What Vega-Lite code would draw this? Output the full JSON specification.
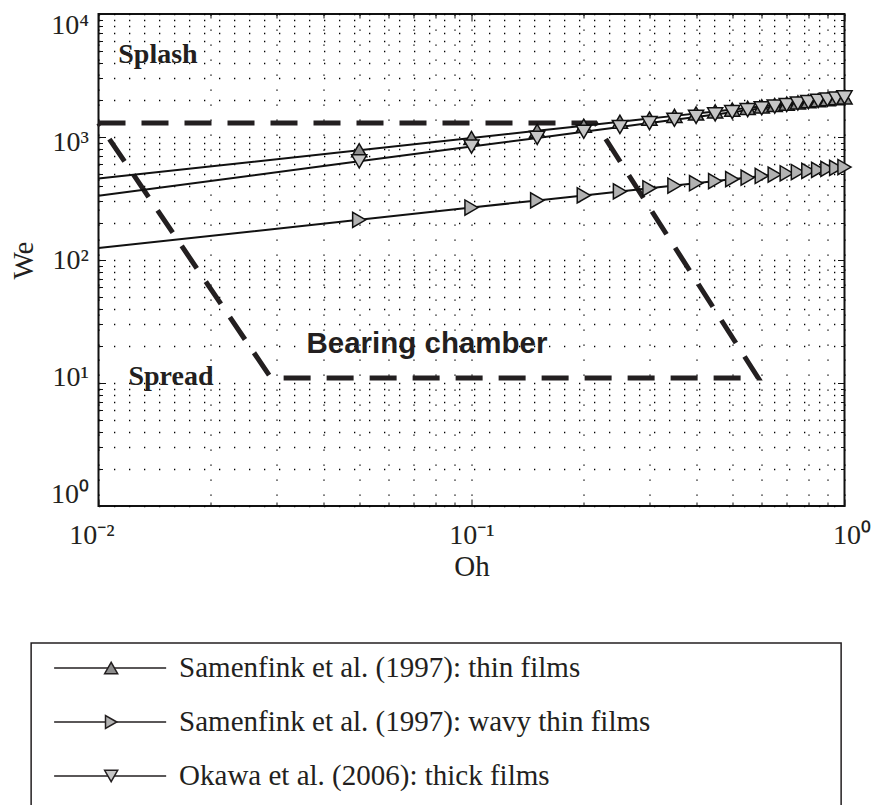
{
  "$schema": "https://vega.github.io/schema/vega-lite/v6.json",
  "padding": {"left": 8, "top": 4, "right": 0, "bottom": 0},
  "background": "white",
  "config": {"font": "Liberation Serif", "view": {"stroke": null}},
  "datasets": {
    "chamber": [
      {"Oh": 0.01, "We": 1300, "k": 1},
      {"Oh": 0.215, "We": 1300, "k": 2},
      {"Oh": 0.587, "We": 11, "k": 3},
      {"Oh": 0.029, "We": 11, "k": 4},
      {"Oh": 0.01, "We": 1300, "k": 5}
    ],
    "curves": [
      {"series": "Samenfink et al. (1997): thin films", "Oh": 0.01, "We": 459},
      {"series": "Samenfink et al. (1997): thin films", "Oh": 0.05, "We": 781},
      {"series": "Samenfink et al. (1997): thin films", "Oh": 0.1, "We": 982},
      {"series": "Samenfink et al. (1997): thin films", "Oh": 0.15, "We": 1123},
      {"series": "Samenfink et al. (1997): thin films", "Oh": 0.2, "We": 1235},
      {"series": "Samenfink et al. (1997): thin films", "Oh": 0.25, "We": 1329},
      {"series": "Samenfink et al. (1997): thin films", "Oh": 0.3, "We": 1412},
      {"series": "Samenfink et al. (1997): thin films", "Oh": 0.35, "We": 1485},
      {"series": "Samenfink et al. (1997): thin films", "Oh": 0.4, "We": 1552},
      {"series": "Samenfink et al. (1997): thin films", "Oh": 0.45, "We": 1614},
      {"series": "Samenfink et al. (1997): thin films", "Oh": 0.5, "We": 1671},
      {"series": "Samenfink et al. (1997): thin films", "Oh": 0.55, "We": 1724},
      {"series": "Samenfink et al. (1997): thin films", "Oh": 0.6, "We": 1775},
      {"series": "Samenfink et al. (1997): thin films", "Oh": 0.65, "We": 1822},
      {"series": "Samenfink et al. (1997): thin films", "Oh": 0.7, "We": 1867},
      {"series": "Samenfink et al. (1997): thin films", "Oh": 0.75, "We": 1910},
      {"series": "Samenfink et al. (1997): thin films", "Oh": 0.8, "We": 1951},
      {"series": "Samenfink et al. (1997): thin films", "Oh": 0.85, "We": 1991},
      {"series": "Samenfink et al. (1997): thin films", "Oh": 0.9, "We": 2029},
      {"series": "Samenfink et al. (1997): thin films", "Oh": 0.95, "We": 2065},
      {"series": "Samenfink et al. (1997): thin films", "Oh": 1, "We": 2100},
      {"series": "Samenfink et al. (1997): wavy thin films", "Oh": 0.01, "We": 125},
      {"series": "Samenfink et al. (1997): wavy thin films", "Oh": 0.05, "We": 212},
      {"series": "Samenfink et al. (1997): wavy thin films", "Oh": 0.1, "We": 267},
      {"series": "Samenfink et al. (1997): wavy thin films", "Oh": 0.15, "We": 305},
      {"series": "Samenfink et al. (1997): wavy thin films", "Oh": 0.2, "We": 335},
      {"series": "Samenfink et al. (1997): wavy thin films", "Oh": 0.25, "We": 361},
      {"series": "Samenfink et al. (1997): wavy thin films", "Oh": 0.3, "We": 383},
      {"series": "Samenfink et al. (1997): wavy thin films", "Oh": 0.35, "We": 403},
      {"series": "Samenfink et al. (1997): wavy thin films", "Oh": 0.4, "We": 421},
      {"series": "Samenfink et al. (1997): wavy thin films", "Oh": 0.45, "We": 438},
      {"series": "Samenfink et al. (1997): wavy thin films", "Oh": 0.5, "We": 454},
      {"series": "Samenfink et al. (1997): wavy thin films", "Oh": 0.55, "We": 468},
      {"series": "Samenfink et al. (1997): wavy thin films", "Oh": 0.6, "We": 482},
      {"series": "Samenfink et al. (1997): wavy thin films", "Oh": 0.65, "We": 495},
      {"series": "Samenfink et al. (1997): wavy thin films", "Oh": 0.7, "We": 507},
      {"series": "Samenfink et al. (1997): wavy thin films", "Oh": 0.75, "We": 519},
      {"series": "Samenfink et al. (1997): wavy thin films", "Oh": 0.8, "We": 530},
      {"series": "Samenfink et al. (1997): wavy thin films", "Oh": 0.85, "We": 540},
      {"series": "Samenfink et al. (1997): wavy thin films", "Oh": 0.9, "We": 551},
      {"series": "Samenfink et al. (1997): wavy thin films", "Oh": 0.95, "We": 561},
      {"series": "Samenfink et al. (1997): wavy thin films", "Oh": 1, "We": 570},
      {"series": "Okawa et al. (2006): thick films", "Oh": 0.01, "We": 333},
      {"series": "Okawa et al. (2006): thick films", "Oh": 0.05, "We": 634},
      {"series": "Okawa et al. (2006): thick films", "Oh": 0.1, "We": 836},
      {"series": "Okawa et al. (2006): thick films", "Oh": 0.15, "We": 983},
      {"series": "Okawa et al. (2006): thick films", "Oh": 0.2, "We": 1103},
      {"series": "Okawa et al. (2006): thick films", "Oh": 0.25, "We": 1206},
      {"series": "Okawa et al. (2006): thick films", "Oh": 0.3, "We": 1298},
      {"series": "Okawa et al. (2006): thick films", "Oh": 0.35, "We": 1380},
      {"series": "Okawa et al. (2006): thick films", "Oh": 0.4, "We": 1456},
      {"series": "Okawa et al. (2006): thick films", "Oh": 0.45, "We": 1526},
      {"series": "Okawa et al. (2006): thick films", "Oh": 0.5, "We": 1592},
      {"series": "Okawa et al. (2006): thick films", "Oh": 0.55, "We": 1654},
      {"series": "Okawa et al. (2006): thick films", "Oh": 0.6, "We": 1712},
      {"series": "Okawa et al. (2006): thick films", "Oh": 0.65, "We": 1768},
      {"series": "Okawa et al. (2006): thick films", "Oh": 0.7, "We": 1821},
      {"series": "Okawa et al. (2006): thick films", "Oh": 0.75, "We": 1872},
      {"series": "Okawa et al. (2006): thick films", "Oh": 0.8, "We": 1921},
      {"series": "Okawa et al. (2006): thick films", "Oh": 0.85, "We": 1968},
      {"series": "Okawa et al. (2006): thick films", "Oh": 0.9, "We": 2014},
      {"series": "Okawa et al. (2006): thick films", "Oh": 0.95, "We": 2058},
      {"series": "Okawa et al. (2006): thick films", "Oh": 1, "We": 2100}
    ]
  },
  "spacing": 60,
  "center": true,
  "vconcat": [
    {
      "width": 746,
      "height": 492,
      "view": {"stroke": "#111111", "strokeWidth": 2},
      "resolve": {"axis": {"x": "independent", "y": "independent"}},
      "layer": [
        {
          "data": {"name": "chamber"},
          "mark": {"type": "line", "stroke": "#231f20", "strokeWidth": 5, "strokeDash": [27, 16], "strokeCap": "butt", "clip": false},
          "encoding": {
            "x": {
              "field": "Oh", "type": "quantitative",
              "scale": {"type": "log", "domain": [0.01, 1], "nice": false},
              "axis": {
                "orient": "bottom",
                "values": [0.01, 0.02, 0.03, 0.04, 0.05, 0.06, 0.07, 0.08, 0.09, 0.1, 0.2, 0.3, 0.4, 0.5, 0.6, 0.7, 0.8, 0.9, 1],
                "labelExpr": "datum.value == 0.01 ? '10⁻²' : datum.value == 0.1 ? '10⁻¹' : datum.value == 1 ? '10⁰' : ''",
                "labelOverlap": false, "labelFlush": false, "labelBound": false,
                "labelFont": "Liberation Serif", "labelFontSize": 28, "labelColor": "#231f20",
                "labelPadding": 22,
                "labelOffset": {"condition": [{"test": "datum.value == 0.01", "value": -7}, {"test": "datum.value == 1", "value": 7}], "value": 0},
                "tickSize": {"condition": {"test": "datum.value == 0.01 || datum.value == 0.1 || datum.value == 1", "value": -7}, "value": -4},
                "tickColor": "#111111", "tickWidth": 1,
                "domain": false,
                "grid": true, "gridDash": [1.3, 13.7], "gridColor": "#000000", "gridWidth": 1.3,
                "title": "Oh", "titleFont": "Liberation Serif", "titleFontSize": 29, "titleFontWeight": "normal", "titleColor": "#231f20", "titlePadding": 0
              }
            },
            "y": {
              "field": "We", "type": "quantitative",
              "scale": {"type": "log", "domain": [1, 10000], "nice": false},
              "axis": {
                "orient": "left",
                "values": [1, 2, 3, 4, 5, 6, 7, 8, 9, 10, 20, 30, 40, 50, 60, 70, 80, 90, 100, 200, 300, 400, 500, 600, 700, 800, 900, 1000, 2000, 3000, 4000, 5000, 6000, 7000, 8000, 9000, 10000],
                "labelExpr": "datum.value == 1 ? '10⁰' : datum.value == 10 ? '10¹' : datum.value == 100 ? '10²' : datum.value == 1000 ? '10³' : datum.value == 10000 ? '10⁴' : ''",
                "labelOverlap": false, "labelFlush": false, "labelBound": false,
                "labelFont": "Liberation Serif", "labelFontSize": 28, "labelColor": "#231f20",
                "labelPadding": 17,
                "labelOffset": {"condition": [{"test": "datum.value == 10000", "value": 11}, {"test": "datum.value == 1000", "value": 5}, {"test": "datum.value == 10", "value": -6}, {"test": "datum.value == 1", "value": -12}], "value": 0},
                "tickSize": {"condition": {"test": "datum.value == 1 || datum.value == 10 || datum.value == 100 || datum.value == 1000 || datum.value == 10000", "value": -7}, "value": -4},
                "tickColor": "#111111", "tickWidth": 1,
                "domain": false,
                "grid": true, "gridDash": [1.3, 13.7], "gridColor": "#000000", "gridWidth": 1.3,
                "minExtent": 43, "maxExtent": 43,
                "title": "We", "titleFont": "Liberation Serif", "titleFontSize": 29, "titleFontWeight": "normal", "titleColor": "#231f20", "titlePadding": 17
              }
            },
            "order": {"field": "k", "type": "quantitative"}
          }
        },
        {
          "data": {"name": "curves"},
          "mark": {"type": "line", "stroke": "#111111", "strokeWidth": 2},
          "encoding": {
            "x": {
              "field": "Oh", "type": "quantitative",
              "axis": {
                "orient": "top",
                "values": [0.01, 0.02, 0.03, 0.04, 0.05, 0.06, 0.07, 0.08, 0.09, 0.1, 0.2, 0.3, 0.4, 0.5, 0.6, 0.7, 0.8, 0.9, 1],
                "labels": false, "title": null, "grid": false, "domain": false,
                "tickSize": {"condition": {"test": "datum.value == 0.01 || datum.value == 0.1 || datum.value == 1", "value": -7}, "value": -4},
                "tickColor": "#111111", "tickWidth": 1
              }
            },
            "y": {
              "field": "We", "type": "quantitative",
              "axis": {
                "orient": "right",
                "values": [1, 2, 3, 4, 5, 6, 7, 8, 9, 10, 20, 30, 40, 50, 60, 70, 80, 90, 100, 200, 300, 400, 500, 600, 700, 800, 900, 1000, 2000, 3000, 4000, 5000, 6000, 7000, 8000, 9000, 10000],
                "labels": false, "title": null, "grid": false, "domain": false,
                "tickSize": {"condition": {"test": "datum.value == 1 || datum.value == 10 || datum.value == 100 || datum.value == 1000 || datum.value == 10000", "value": -7}, "value": -4},
                "tickColor": "#111111", "tickWidth": 1
              }
            },
            "detail": {"field": "series", "type": "nominal"}
          }
        },
        {
          "data": {"name": "curves"},
          "transform": [{"filter": "datum.Oh >= 0.05"}],
          "mark": {"type": "point", "filled": true, "stroke": "#111111", "strokeWidth": 1.5, "size": 230, "opacity": 1, "fillOpacity": 1, "strokeOpacity": 1},
          "encoding": {
            "x": {"field": "Oh", "type": "quantitative", "axis": null},
            "y": {"field": "We", "type": "quantitative", "axis": null},
            "shape": {
              "field": "series", "type": "nominal", "legend": null,
              "scale": {"domain": ["Samenfink et al. (1997): thin films", "Samenfink et al. (1997): wavy thin films", "Okawa et al. (2006): thick films"], "range": ["triangle-up", "triangle-right", "triangle-down"]}
            },
            "fill": {
              "field": "series", "type": "nominal", "legend": null,
              "scale": {"domain": ["Samenfink et al. (1997): thin films", "Samenfink et al. (1997): wavy thin films", "Okawa et al. (2006): thick films"], "range": ["#8c8c8c", "#b2b2b2", "#c6c6c6"]}
            }
          }
        },
        {
          "data": {"values": [{}]},
          "mark": {"type": "text", "align": "left", "baseline": "middle", "font": "Liberation Serif", "fontWeight": "bold", "fontSize": 28, "color": "#231f20"},
          "encoding": {
            "x": {"datum": 0.0113, "type": "quantitative", "axis": null},
            "y": {"datum": 4640, "type": "quantitative", "axis": null},
            "text": {"value": "Splash"}
          }
        },
        {
          "data": {"values": [{}]},
          "mark": {"type": "text", "align": "left", "baseline": "middle", "font": "Liberation Serif", "fontWeight": "bold", "fontSize": 28, "color": "#231f20"},
          "encoding": {
            "x": {"datum": 0.01203, "type": "quantitative", "axis": null},
            "y": {"datum": 11.2, "type": "quantitative", "axis": null},
            "text": {"value": "Spread"}
          }
        },
        {
          "data": {"values": [{}]},
          "mark": {"type": "text", "align": "left", "baseline": "middle", "font": "Liberation Sans", "fontWeight": "bold", "fontSize": 29.5, "color": "#231f20"},
          "encoding": {
            "x": {"datum": 0.0361, "type": "quantitative", "axis": null},
            "y": {"datum": 20.7, "type": "quantitative", "axis": null},
            "text": {"value": "Bearing chamber"}
          }
        }
      ]
    },
    {
      "width": 810,
      "height": 190,
      "view": {"stroke": "#231f20", "strokeWidth": 1.5},
      "data": {"name": "curves"},
      "transform": [{"filter": "datum.Oh == 1"}],
      "encoding": {
        "y": {
          "field": "series", "type": "nominal",
          "scale": {"domain": ["Samenfink et al. (1997): thin films", "Samenfink et al. (1997): wavy thin films", "Okawa et al. (2006): thick films"], "range": [-2, 160]},
          "axis": {"orient": "right", "title": " ", "titleFontSize": 12, "titlePadding": 84, "labels": false, "ticks": false, "domain": false, "grid": false}
        }
      },
      "layer": [
        {
          "mark": {"type": "rule", "stroke": "#231f20", "strokeWidth": 1.5},
          "encoding": {
            "x": {"datum": 2.84, "type": "quantitative", "scale": {"domain": [0, 100]}, "axis": null},
            "x2": {"datum": 16.67}
          }
        },
        {
          "mark": {"type": "point", "filled": true, "stroke": "#231f20", "strokeWidth": 1.5, "size": 170, "opacity": 1, "fillOpacity": 1, "strokeOpacity": 1},
          "encoding": {
            "x": {"datum": 9.88, "type": "quantitative", "axis": null},
            "shape": {
              "field": "series", "type": "nominal", "legend": null,
              "scale": {"domain": ["Samenfink et al. (1997): thin films", "Samenfink et al. (1997): wavy thin films", "Okawa et al. (2006): thick films"], "range": ["triangle-up", "triangle-right", "triangle-down"]}
            },
            "fill": {
              "field": "series", "type": "nominal", "legend": null,
              "scale": {"domain": ["Samenfink et al. (1997): thin films", "Samenfink et al. (1997): wavy thin films", "Okawa et al. (2006): thick films"], "range": ["#8c8c8c", "#b2b2b2", "#c6c6c6"]}
            }
          }
        },
        {
          "mark": {"type": "text", "align": "left", "baseline": "middle", "font": "Liberation Serif", "fontSize": 29, "color": "#231f20"},
          "encoding": {
            "x": {"datum": 18.27, "type": "quantitative", "axis": null},
            "text": {"field": "series", "type": "nominal"}
          }
        }
      ]
    }
  ]
}
